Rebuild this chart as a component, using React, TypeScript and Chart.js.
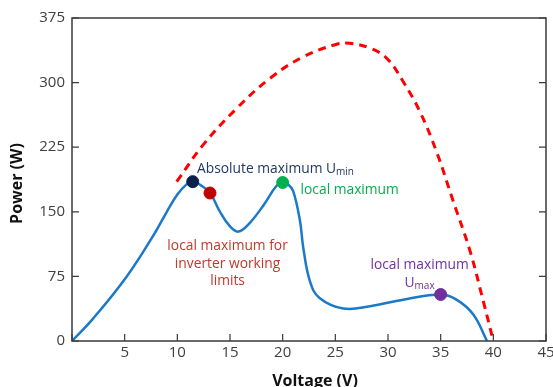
import React, { useEffect, useRef } from "react";
import { Chart, registerables } from "chart.js";

Chart.register(...registerables);

// PV curve under partial shading (blue)
const pvVoltage = [0, 2, 5.2, 7.7, 9.0, 10.0, 10.8, 11.46, 12.2, 13.1, 14, 15, 15.8, 16.8, 18.2, 19.4, 20, 20.5, 21, 21.65, 21.96, 22.6, 23.5, 25.76, 28.3, 31.45, 35, 36.5, 38.1, 39.4];
const pvPower = [0, 26, 75, 122, 150, 170, 181, 185, 181, 172, 151, 133, 127, 136, 158, 180, 184, 182, 174, 139, 108, 69, 50, 37.7, 40.4, 48, 54, 48, 30.7, 0];

// Unshaded PV curve envelope (red dashed)
const envVoltage = [9.94, 12.47, 15.63, 18.8, 21.96, 25.13, 26.4, 28.3, 29.9, 31.45, 33.04, 34.6, 36.2, 37.8, 39.05, 40];
const envPower = [185, 228, 270, 305, 330, 344.5, 345.6, 340, 328, 301, 266, 220, 162, 104, 46, 0];

// Highlighted points
const markerVoltage = [11.46, 13.1, 20, 35];
const markerPower = [185, 171.8, 184, 54];
const markerColors = ["#0c1f4a", "#c00000", "#00b050", "#7030a0"];

const xTickValues = [0, 5, 10, 15, 20, 25, 30, 35, 40, 45];
const yTickValues = [0, 75, 150, 225, 300, 375];

const annotations = [
  { lines: [["Absolute maximum U", "min"]], v: 11.87, p: 200, color: "#1f3864", align: "left" },
  { lines: [["local maximum", ""]], v: 21.7, p: 175, color: "#00b050", align: "left" },
  { lines: [["local maximum for", ""], ["inverter working", ""], ["limits", ""]], v: 14.77, p: 110, color: "#c0392b", align: "center" },
  { lines: [["local maximum", ""], ["U", "max"]], v: 33.0, p: 88, color: "#7030a0", align: "center" },
];

const FONT = "'Open Sans', 'DejaVu Sans', sans-serif";

const decorPlugin = {
  id: "decor",
  afterDatasetsDraw(chart: any) {
    const { ctx, chartArea, scales } = chart;
    const x = scales.x;
    const y = scales.y;
    ctx.save();
    // frame
    ctx.strokeStyle = "#3a3a3a";
    ctx.lineWidth = 1.5;
    ctx.strokeRect(chartArea.left, chartArea.top, chartArea.right - chartArea.left, chartArea.bottom - chartArea.top);
    // inward ticks
    ctx.lineWidth = 1.2;
    ctx.beginPath();
    xTickValues.forEach((v) => {
      const px = x.getPixelForValue(v);
      ctx.moveTo(px, chartArea.bottom);
      ctx.lineTo(px, chartArea.bottom - 7);
    });
    yTickValues.forEach((v) => {
      const py = y.getPixelForValue(v);
      ctx.moveTo(chartArea.left, py);
      ctx.lineTo(chartArea.left + 7, py);
      ctx.moveTo(chartArea.right, py);
      ctx.lineTo(chartArea.right - 7, py);
    });
    ctx.stroke();

    // annotations
    const lineGap = 17.5;
    const mainFont = `13.8px ${FONT}`;
    const subFont = `10px ${FONT}`;
    annotations.forEach((a) => {
      const ax = x.getPixelForValue(a.v);
      const ay = y.getPixelForValue(a.p);
      ctx.fillStyle = a.color;
      ctx.textBaseline = "middle";
      a.lines.forEach((ln, i) => {
        const [main, sub] = ln;
        const ly = ay + i * lineGap;
        ctx.font = mainFont;
        const wMain = ctx.measureText(main).width;
        ctx.font = subFont;
        const wSub = sub ? ctx.measureText(sub).width : 0;
        const total = wMain + wSub;
        const sx = a.align === "center" ? ax - total / 2 : ax;
        ctx.textAlign = "left";
        ctx.font = mainFont;
        ctx.fillText(main, sx, ly);
        if (sub) {
          ctx.font = subFont;
          ctx.fillText(sub, sx + wMain, ly + 3);
        }
      });
    });

    // axis titles
    ctx.fillStyle = "#111";
    ctx.font = `bold 16px ${FONT}`;
    ctx.textAlign = "center";
    ctx.textBaseline = "alphabetic";
    ctx.fillText("Voltage (V)", (chartArea.left + chartArea.right) / 2 + 6, 386);
    ctx.save();
    ctx.translate(17, (chartArea.top + chartArea.bottom) / 2 + 4);
    ctx.rotate(-Math.PI / 2);
    ctx.textBaseline = "middle";
    ctx.fillText("Power (W)", 0, 0);
    ctx.restore();
    ctx.restore();
  },
};

export default function App() {
  const canvasRef = useRef<HTMLCanvasElement | null>(null);

  useEffect(() => {
    if (!canvasRef.current) return;
    const chart = new Chart(canvasRef.current, {
      type: "scatter",
      data: {
        datasets: [
          ...markerVoltage.map((v, i) => ({
            data: [{ x: v, y: markerPower[i] }],
            showLine: false,
            pointRadius: 6,
            pointHoverRadius: 6,
            pointBackgroundColor: markerColors[i],
            pointBorderColor: markerColors[i],
            order: 0,
          })),
          {
            data: pvVoltage.map((v, i) => ({ x: v, y: pvPower[i] })),
            showLine: true,
            borderColor: "#1a7ac8",
            borderWidth: 2.5,
            pointRadius: 0,
            tension: 0.4,
            order: 2,
          },
          {
            data: envVoltage.map((v, i) => ({ x: v, y: envPower[i] })),
            showLine: true,
            borderColor: "#ff0000",
            borderWidth: 3,
            borderDash: [8, 6],
            pointRadius: 0,
            tension: 0.4,
            order: 3,
          },
        ] as any,
      },
      options: {
        animation: false,
        responsive: false,
        maintainAspectRatio: false,
        layout: { padding: { top: 18, right: 7, left: 0, bottom: 0 } },
        plugins: { legend: { display: false }, tooltip: { enabled: false } },
        scales: {
          x: {
            type: "linear",
            min: 0,
            max: 45,
            afterBuildTicks: (s: any) => {
              s.ticks = xTickValues.map((v) => ({ value: v }));
            },
            afterFit: (s: any) => {
              s.height = 46;
              s.paddingLeft = 0;
              s.paddingRight = 0;
            },
            grid: { display: false, drawTicks: false },
            border: { display: false },
            ticks: {
              color: "#404040",
              font: { size: 15, family: FONT },
              padding: 3,
              maxRotation: 0,
              callback: (v: any) => (v === 0 ? "" : String(v)),
            },
          },
          y: {
            type: "linear",
            min: 0,
            max: 375,
            afterBuildTicks: (s: any) => {
              s.ticks = yTickValues.map((v) => ({ value: v }));
            },
            afterFit: (s: any) => {
              s.width = 72;
              s.paddingTop = 0;
              s.paddingBottom = 0;
            },
            grid: { display: false, drawTicks: false },
            border: { display: false },
            ticks: {
              color: "#404040",
              font: { size: 15, family: FONT },
              padding: 7,
            },
          },
        },
      },
      plugins: [decorPlugin],
    });
    return () => chart.destroy();
  }, []);

  return (
    <div style={{ position: "fixed", left: 0, top: 0, width: 553, height: 387, background: "#fff" }}>
      <canvas ref={canvasRef} width={553} height={387} style={{ width: 553, height: 387 }} />
    </div>
  );
}
